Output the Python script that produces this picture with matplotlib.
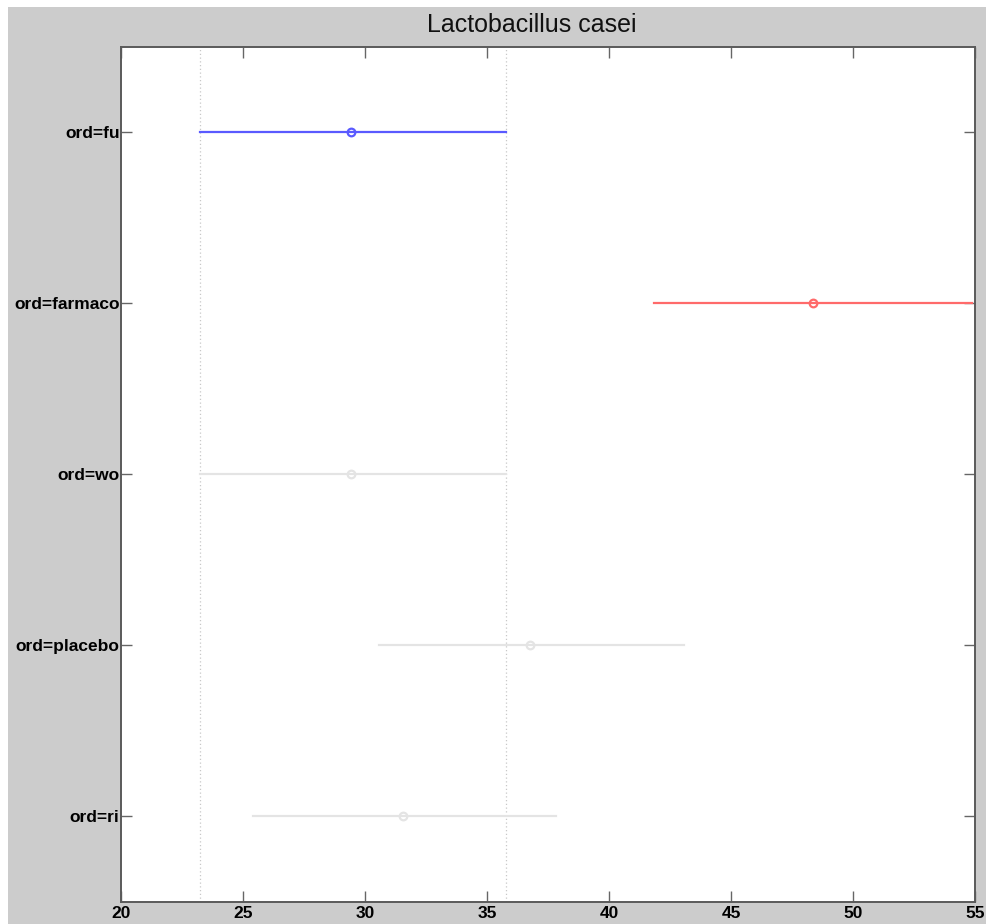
import matplotlib
matplotlib.use("Agg")
import matplotlib.pyplot as plt
from matplotlib.patches import Rectangle

groups = ["ord=fu", "ord=farmaco", "ord=wo", "ord=placebo", "ord=ri"]
means = [29.44, 48.35, 29.44, 36.78, 31.57]
lower = [23.24, 41.83, 23.24, 30.59, 25.42]
upper = [35.76, 54.87, 35.76, 43.06, 37.81]
colors = ["#5a5aff", "#ff6a6a", "#e4e4e4", "#e4e4e4", "#e4e4e4"]
ref_lines = [23.24, 35.76]
xticks = [20, 25, 30, 35, 40, 45, 50, 55]
title = "Lactobacillus casei"

W, H = 986, 924
fig = plt.figure(figsize=(W / 100, H / 100), dpi=100, facecolor="white")
fig.patches.append(Rectangle((8 / W, 0), 1, 1 - 7 / H, transform=fig.transFigure,
                             facecolor="#cccccc", edgecolor="none", zorder=-5))

l, r, t, b = 121, 975, 47, 902
ax = fig.add_axes([l / W, 1 - b / H, (r - l) / W, (b - t) / H])
ax.set_zorder(2)
ax.set_facecolor("white")

for xv in ref_lines:
    ax.axvline(xv, color="#c8c8c8", linestyle=(0, (1, 2)), linewidth=0.9, zorder=1)

ys = list(range(1, len(groups) + 1))
for y, m, lo, hi, c in zip(ys, means, lower, upper, colors):
    ax.plot([lo, hi], [y, y], color=c, linewidth=1.6, zorder=2, clip_on=True)
    ax.plot([m], [y], marker="o", markersize=5.5, markerfacecolor="none",
            markeredgecolor=c, markeredgewidth=1.6, zorder=3)

ax.set_xlim(20, 55)
ax.set_ylim(5.5, 0.5)
ax.set_yticks(ys)
ax.set_yticklabels(groups)
ax.set_xticks(xticks)
ax.set_xticklabels([str(v) for v in xticks])

for lab in ax.get_yticklabels() + ax.get_xticklabels():
    lab.set_fontfamily("Liberation Sans")
    lab.set_fontweight("bold")
ax.tick_params(axis="y", labelsize=12.5, pad=1)
ax.tick_params(axis="x", labelsize=12.5, pad=3)
ax.tick_params(direction="in", length=8, width=1.0, color="#666666",
               top=True, right=True)

for s in ax.spines.values():
    s.set_color("#5a5a5a")
    s.set_linewidth(1.4)

fig.text(532 / W, 1 - 32 / H, title, ha="center", va="baseline",
         fontsize=18, family="Liberation Sans", color="#111111")

fig.savefig("out.png", dpi=100, facecolor=fig.get_facecolor())
